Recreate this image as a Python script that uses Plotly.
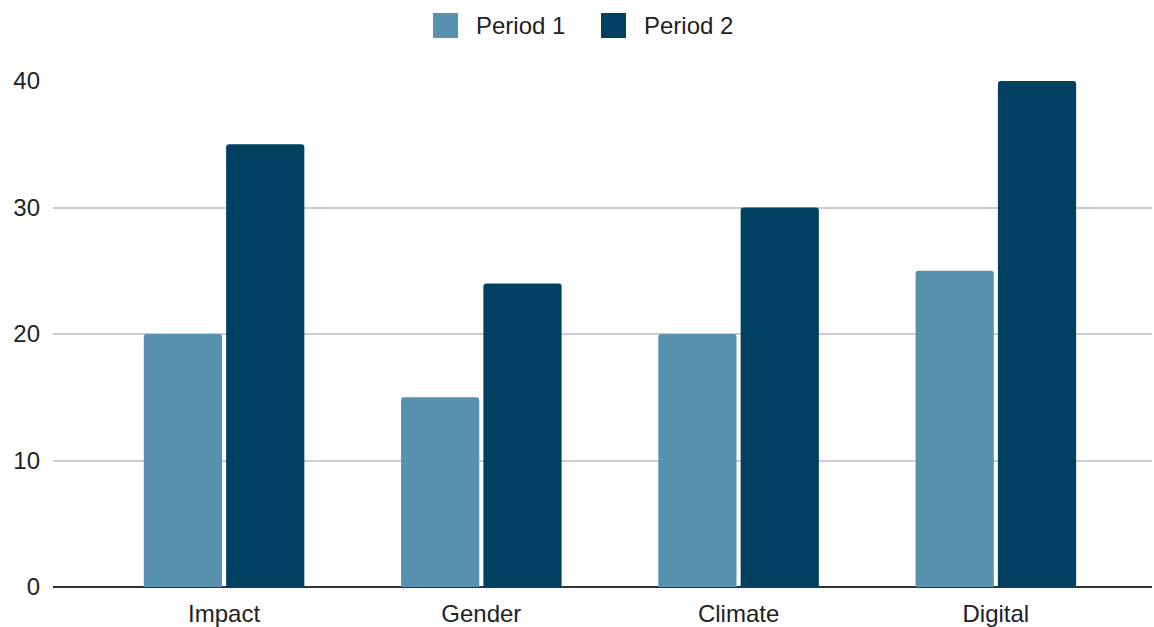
import plotly.graph_objects as go

categories = ["Impact", "Gender", "Climate", "Digital"]
period1 = [20, 15, 20, 25]
period2 = [35, 24, 30, 40]
series_names = ["Period 1", "Period 2"]
colors = ["#5891ad", "#004060"]
y_ticks = [0, 10, 20, 30, 40]

FONT = "Liberation Sans, Arial, sans-serif"
TEXT = "#222222"

fig = go.Figure()
for name, vals, col in zip(series_names, [period1, period2], colors):
    fig.add_trace(go.Bar(x=categories, y=vals, name=name, marker=dict(color=col, line=dict(width=0)),
                         showlegend=False))

# manual legend (larger swatches like the reference)
leg_x = [433, 601]
for name, col, x0 in zip(series_names, colors, leg_x):
    fig.add_shape(type="rect", xref="paper", yref="paper",
                  x0=(x0 - 53) / 1099, x1=(x0 + 25 - 53) / 1099,
                  y0=(587 - 38) / 506, y1=(587 - 13) / 506,
                  fillcolor=col, line=dict(width=0))
    fig.add_annotation(xref="paper", yref="paper", x=(x0 + 41 - 53) / 1099, y=(587 - 25.5) / 506,
                       text=name, showarrow=False, xanchor="left", yanchor="middle",
                       font=dict(family=FONT, size=24, color=TEXT))

fig.update_layout(
    width=1154, height=627,
    margin=dict(l=53, r=2, t=81, b=40, autoexpand=False),
    paper_bgcolor="white", plot_bgcolor="white",
    barmode="group", bargap=0.36, bargroupgap=0.05, barcornerradius=3,
    font=dict(family=FONT, size=24, color=TEXT),
    xaxis=dict(range=[-0.665, 3.607], showgrid=False, showline=False, zeroline=False,
               ticks="", tickfont=dict(size=24, color=TEXT), ticklabelstandoff=10,
               automargin=False),
    yaxis=dict(range=[0, 40], tickvals=y_ticks, showgrid=True, gridcolor="#cccccc", gridwidth=2,
               zeroline=True, zerolinecolor="#333333", zerolinewidth=2, showline=False,
               ticks="", tickfont=dict(size=24, color=TEXT), ticklabelstandoff=12,
               automargin=False),
)

fig.write_html("out.html")
